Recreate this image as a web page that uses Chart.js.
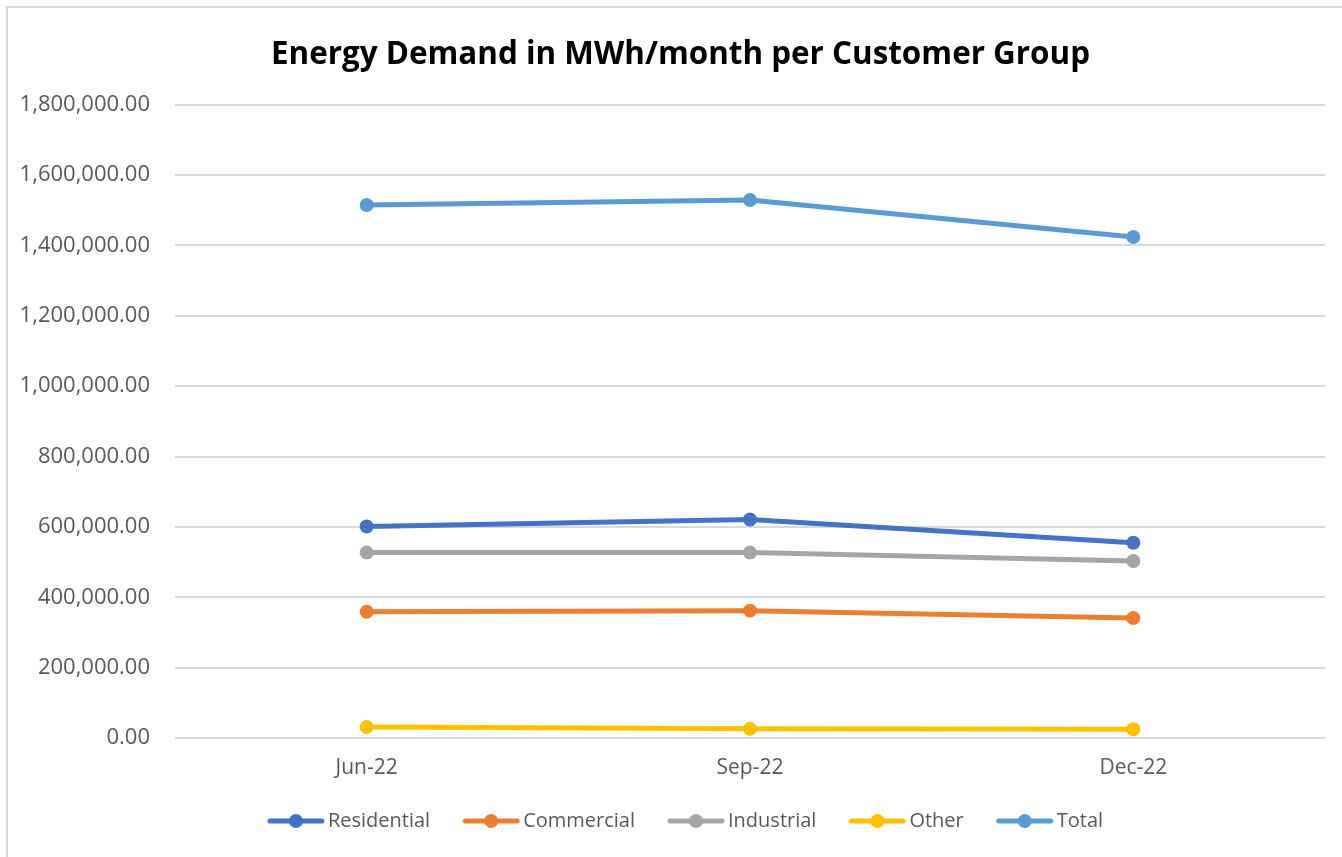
<!DOCTYPE html>
<html>
<head>
<meta charset="utf-8">
<script src="https://cdn.jsdelivr.net/npm/chart.js@4.4.0/dist/chart.umd.min.js"></script>
<style>
  html, body { margin: 0; padding: 0; background: #ffffff; }
  #wrap { position: relative; width: 1342px; height: 857px; overflow: hidden; }
  #frame { position: absolute; left: 6px; top: 6px; width: 1400px; height: 900px;
           border-left: 2px solid #d9d9d9; border-top: 2px solid #d9d9d9; box-sizing: border-box; pointer-events: none; }
  canvas { position: absolute; left: 0; top: 0; }
</style>
</head>
<body>
<div id="wrap">
  <canvas id="c" width="1342" height="857"></canvas>
  <div id="frame"></div>
</div>
<script>
const chartTitle = 'Energy Demand in MWh/month per Customer Group';
const categories = ['Jun-22', 'Sep-22', 'Dec-22'];
const seriesNames = ['Residential', 'Commercial', 'Industrial', 'Other', 'Total'];
const residential = [601000, 621000, 555000];
const commercial = [359000, 362000, 341000];
const industrial = [527000, 527000, 503000];
const other = [31000, 26000, 25000];
const total = [1515000, 1529000, 1424000];
const seriesColors = ['#4472C4', '#ED7D31', '#A5A5A5', '#FFC000', '#5B9BD5'];
const yMin = 0, yMax = 1800000, yStep = 200000;

const seriesValues = [residential, commercial, industrial, other, total];

function legendMarker(color) {
  const cv = document.createElement('canvas');
  cv.width = 58; cv.height = 18;
  const g = cv.getContext('2d');
  g.strokeStyle = color; g.lineWidth = 5; g.lineCap = 'round';
  g.beginPath(); g.moveTo(3, 9); g.lineTo(55, 9); g.stroke();
  g.fillStyle = color; g.beginPath(); g.arc(29, 9, 7, 0, Math.PI * 2); g.fill();
  return cv;
}
const markers = seriesColors.map(legendMarker);

const fmt = new Intl.NumberFormat('en-US', { minimumFractionDigits: 2, maximumFractionDigits: 2 });

const boxShift = {
  id: 'boxShift',
  afterLayout(chart) {
    const lg = chart.legend;
    if (lg) {
      lg.left += 16; lg.right += 16;
      lg.top -= 16; lg.bottom -= 16;
      if (lg.legendHitBoxes) lg.legendHitBoxes.forEach(b => { b.left += 16; b.top -= 16; });
    }
    const tt = chart.titleBlock;
    if (tt) { tt.left += 8; tt.right += 8; }
  }
};

new Chart(document.getElementById('c'), {
  type: 'line',
  data: {
    labels: categories,
    datasets: seriesNames.map((name, i) => ({
      label: name,
      data: seriesValues[i],
      borderColor: seriesColors[i],
      backgroundColor: seriesColors[i],
      borderWidth: 5,
      pointRadius: 7,
      pointHoverRadius: 7,
      pointBorderWidth: 0,
      tension: 0,
      fill: false
    }))
  },
  plugins: [boxShift],
  options: {
    responsive: false,
    animation: false,
    layout: { padding: { left: 20, right: 17, top: 0, bottom: 0 } },
    plugins: {
      tooltip: { enabled: false },
      title: {
        display: true,
        text: chartTitle,
        color: '#000000',
        font: { family: 'Open Sans', size: 31.4, weight: 'bold' },
        padding: { top: 36, bottom: 31 }
      },
      legend: {
        position: 'bottom',
        labels: {
          usePointStyle: true,
          pointStyleWidth: 44,
          padding: 39,
          color: '#595959',
          font: { family: 'Open Sans', size: 20 },
          generateLabels(chart) {
            const items = Chart.defaults.plugins.legend.labels.generateLabels(chart);
            return items.map((it, i) => Object.assign(it, { pointStyle: markers[i], lineWidth: 0 }));
          }
        }
      }
    },
    scales: {
      x: {
        offset: true,
        grid: { display: false, drawTicks: false },
        border: { display: false },
        ticks: { color: '#595959', font: { family: 'Open Sans', size: 21 }, padding: 17 },
        afterFit(s) { s.height = 50; }
      },
      y: {
        min: yMin, max: yMax,
        grid: { color: '#d9d9d9', lineWidth: 2, drawTicks: false },
        border: { display: false },
        ticks: {
          stepSize: yStep,
          color: '#595959',
          font: { family: 'Open Sans', size: 22 },
          padding: 25,
          callback: v => fmt.format(v)
        },
        afterFit(s) { s.width = 155; }
      }
    }
  }
});
</script>
</body>
</html>
